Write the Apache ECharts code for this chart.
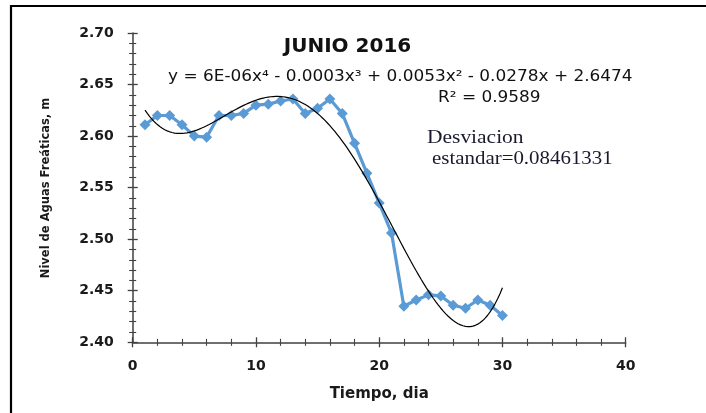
<!DOCTYPE html>
<html>
<head>
<meta charset="utf-8">
<script src="https://cdn.jsdelivr.net/npm/echarts@6/dist/echarts.min.js"></script>
<style>
  html, body { margin: 0; padding: 0; background: #ffffff; }
  #chart { width: 706px; height: 413px; }
</style>
</head>
<body>
<div id="chart"></div>
<script>
// Daily water-table level, June 2016
const dias = [1, 2, 3, 4, 5, 6, 7, 8, 9, 10, 11, 12, 13, 14, 15,
              16, 17, 18, 19, 20, 21, 22, 23, 24, 25, 26, 27, 28, 29, 30];
const nivel = [2.611, 2.620, 2.620, 2.611, 2.600, 2.599, 2.620, 2.620, 2.622, 2.630,
               2.631, 2.634, 2.636, 2.622, 2.627, 2.636, 2.622, 2.593, 2.564, 2.535,
               2.506, 2.435, 2.441, 2.446, 2.445, 2.436, 2.433, 2.441, 2.436, 2.426];

// Axis ranges
const xRange = [0, 40, 10];          // min, max, major step
const yRange = [2.40, 2.70, 0.05];

// Annotation texts
const titulo = 'JUNIO 2016';
const tituloY = 'Nivel de Aguas Freáticas, m';
const ecuacion = 'y = 6E-06x\u2074 - 0.0003x\u00b3 + 0.0053x\u00b2 - 0.0278x + 2.6474';
const r2 = 'R\u00b2 = 0.9589';
const desviacion = ['Desviacion', 'estandar=0.08461331'];

// Least-squares polynomial fit (4th order trendline)
function polyFit(xs, ys, deg) {
  const n = deg + 1;
  const A = Array.from({ length: n }, () => new Array(n + 1).fill(0));
  for (let k = 0; k < xs.length; k++) {
    for (let i = 0; i < n; i++) {
      for (let j = 0; j < n; j++) A[i][j] += Math.pow(xs[k], i + j);
      A[i][n] += ys[k] * Math.pow(xs[k], i);
    }
  }
  for (let c = 0; c < n; c++) {
    let p = c;
    for (let r = c + 1; r < n; r++) if (Math.abs(A[r][c]) > Math.abs(A[p][c])) p = r;
    [A[c], A[p]] = [A[p], A[c]];
    for (let r = 0; r < n; r++) {
      if (r === c) continue;
      const f = A[r][c] / A[c][c];
      for (let j = c; j <= n; j++) A[r][j] -= f * A[c][j];
    }
  }
  return A.map((row, i) => row[n] / row[i]);
}
const coef = polyFit(dias, nivel, 4);
const evalPoly = t => coef.reduce((s, a, i) => s + a * Math.pow(t, i), 0);
const tendencia = [];
for (let t = dias[0]; t <= dias[dias.length - 1] + 1e-9; t += 0.2) {
  tendencia.push([t, evalPoly(t)]);
}

const axisColor = '#404040';
const labelFont = { fontFamily: 'DejaVu Sans', fontWeight: 'bold', fontSize: 14, color: '#1a1a1a' };

// Each axis is drawn twice (outer and inner ticks) so the ticks cross the line
function axisPair(kind, range, extra) {
  const base = {
    type: 'value', min: range[0], max: range[1], interval: range[2],
    splitLine: { show: false }
  };
  const main = Object.assign({}, base, extra, {
    axisLine: { show: true, lineStyle: { color: axisColor, width: 1.5 } },
    axisTick: { show: true, inside: false, length: 5, lineStyle: { color: axisColor, width: 1.3 } },
    minorTick: { show: true, splitNumber: 5, length: 3.5, lineStyle: { color: axisColor, width: 1.1 } }
  });
  const inner = Object.assign({}, base, {
    position: kind === 'x' ? 'bottom' : 'left',
    axisLine: { show: false },
    axisLabel: { show: false },
    axisTick: { show: true, inside: true, length: 5, lineStyle: { color: axisColor, width: 1.3 } },
    minorTick: { show: true, splitNumber: 5, length: 3.5, lineStyle: { color: axisColor, width: 1.1 } }
  });
  return [main, inner];
}

function texto(x, y, text, opts) {
  return {
    type: 'text', silent: true, x: x, y: y,
    scaleX: opts.scaleX || 1, rotation: opts.rotation || 0,
    style: Object.assign({ x: 0, y: 0, text: text, verticalAlign: 'middle', fill: '#111111' }, opts.style)
  };
}

const chart = echarts.init(document.getElementById('chart'), null, { renderer: 'canvas' });
chart.setOption({
  animation: false,
  backgroundColor: '#ffffff',
  grid: { left: 132.7, top: 33, right: 80.3, bottom: 70.7, containLabel: false },
  xAxis: axisPair('x', xRange, {
    position: 'bottom',
    name: 'Tiempo, dia',
    nameLocation: 'middle',
    nameGap: 44,
    nameTextStyle: { fontFamily: 'DejaVu Sans', fontWeight: 'bold', fontSize: 15, color: '#1a1a1a' },
    axisLabel: Object.assign({ margin: 17 }, labelFont)
  }),
  yAxis: axisPair('y', yRange, {
    position: 'left',
    axisLabel: Object.assign({ margin: 19, formatter: v => v.toFixed(2) }, labelFont)
  }),
  series: [
    {
      type: 'line',
      xAxisIndex: 0, yAxisIndex: 0,
      data: dias.map((d, i) => [d, nivel[i]]),
      symbol: 'diamond',
      symbolSize: 11,
      showAllSymbol: true,
      lineStyle: { color: '#5b9bd5', width: 3.2 },
      itemStyle: { color: '#5b9bd5' },
      z: 2
    },
    {
      type: 'line',
      xAxisIndex: 0, yAxisIndex: 0,
      data: tendencia,
      showSymbol: false,
      symbol: 'none',
      lineStyle: { color: '#000000', width: 1.2 },
      z: 3
    }
  ],
  graphic: [
    {
      type: 'rect', silent: true,
      shape: { x: 11, y: 6, width: 800, height: 600 },
      style: { fill: null, stroke: '#000000', lineWidth: 2.2 }
    },
    texto(46, 188, tituloY, { rotation: Math.PI / 2, scaleX: 0.885,
      style: { align: 'center', fontFamily: 'DejaVu Sans', fontWeight: 'bold', fontSize: 13, fill: '#1a1a1a' } }),
    texto(347.5, 47, titulo, { style: { align: 'center', fontFamily: 'DejaVu Sans', fontWeight: 'bold', fontSize: 20 } }),
    texto(168, 76.5, ecuacion, { scaleX: 1.057, style: { align: 'left', fontFamily: 'DejaVu Sans', fontSize: 16 } }),
    texto(438, 98, r2, { scaleX: 1.057, style: { align: 'left', fontFamily: 'DejaVu Sans', fontSize: 16 } }),
    texto(427, 138, desviacion[0], { scaleX: 1.13, style: { align: 'left', fontFamily: 'Liberation Serif', fontSize: 19, fill: '#1a1a2e' } }),
    texto(432, 159, desviacion[1], { scaleX: 1.1, style: { align: 'left', fontFamily: 'Liberation Serif', fontSize: 19, fill: '#1a1a2e' } })
  ]
});
</script>
</body>
</html>
